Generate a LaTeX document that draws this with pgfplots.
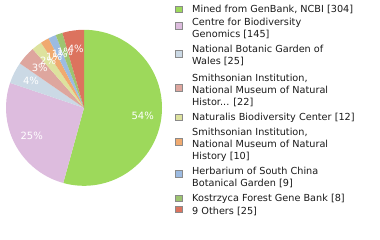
\documentclass[border=0pt]{standalone}
\usepackage{pgfplots}
\usepackage{pgfplotstable}
\pgfplotsset{compat=1.18}
\usepackage{fontspec}
\setmainfont{DejaVu Sans}
\definecolor{c1}{HTML}{9DD95B}
\definecolor{c2}{HTML}{DDBCDE}
\definecolor{c3}{HTML}{CBD9E5}
\definecolor{c4}{HTML}{DEA69E}
\definecolor{c5}{HTML}{DDE29E}
\definecolor{c6}{HTML}{F0AA70}
\definecolor{c7}{HTML}{9CBBE2}
\definecolor{c8}{HTML}{9DC470}
\definecolor{c9}{HTML}{DC735E}
\definecolor{legtext}{HTML}{1A1A1A}
\definecolor{legbox}{HTML}{8A8A8A}

\pgfplotstableread{
value pct col
304 54 c1
145 25 c2
25 4 c3
22 3 c4
12 2 c5
10 1 c6
9 1 c7
8 1 c8
25 4 c9
}\piedata

\newcommand\legbox[2]{\fill[#1, draw=legbox, line width=0.8pt] (175.3pt,{240pt-#2pt-3.3pt}) rectangle (181.9pt,{240pt-#2pt+3.3pt});}
\newcommand\legline[2]{\node at (192pt,{240pt-#1pt-3.5pt}) {#2};}

\begin{document}
\begin{tikzpicture}
\useasboundingbox (0,0) rectangle (380pt,240pt);
\begin{axis}[
  at={(6pt,54.2pt)}, anchor=south west,
  width=156pt, height=156pt, scale only axis,
  xmin=-1, xmax=1, ymin=-1, ymax=1,
  hide axis, clip=false,
]
% total
\def\tot{0}
\pgfplotsforeachungrouped \i in {0,...,8}{%
  \pgfplotstablegetelem{\i}{value}\of\piedata
  \pgfmathsetmacro\tot{\tot+\pgfplotsretval}%
}
% slices
\def\cum{0}
\pgfplotsforeachungrouped \i in {0,...,8}{%
  \pgfplotstablegetelem{\i}{value}\of\piedata \let\pv\pgfplotsretval
  \pgfplotstablegetelem{\i}{col}\of\piedata \let\pc\pgfplotsretval
  \pgfmathsetmacro\sa{90-360*(\cum/\tot)}%
  \pgfmathsetmacro\cum{\cum+\pv}%
  \pgfmathsetmacro\ea{90-360*(\cum/\tot)}%
  \pgfmathsetmacro\cx{cos(\sa)}%
  \pgfmathsetmacro\cy{sin(\sa)}%
  \edef\temp{\noexpand\fill[\pc] (axis cs:0,0) -- (axis cs:\cx,\cy) arc[start angle=\sa, end angle=\ea, radius=78pt] -- cycle;}%
  \temp
}
% labels
\def\cum{0}
\pgfplotsforeachungrouped \i in {0,...,8}{%
  \pgfplotstablegetelem{\i}{value}\of\piedata \let\pv\pgfplotsretval
  \pgfplotstablegetelem{\i}{pct}\of\piedata \let\pp\pgfplotsretval
  \pgfmathsetmacro\sa{90-360*(\cum/\tot)}%
  \pgfmathsetmacro\cum{\cum+\pv}%
  \pgfmathsetmacro\ea{90-360*(\cum/\tot)}%
  \pgfmathsetmacro\lx{0.76*cos((\sa+\ea)/2)}%
  \pgfmathsetmacro\ly{0.76*sin((\sa+\ea)/2)}%
  \edef\temp{\noexpand\node[text=white, font=\noexpand\fontsize{10}{12}\noexpand\selectfont, inner sep=0pt] at (axis cs:\lx,\ly) {\pp\noexpand\%};}%
  \temp
}
\end{axis}
% legend
\begin{scope}[every node/.style={anchor=base west, inner sep=0pt, text=legtext, font=\fontsize{9.7}{11}\selectfont}]
\legbox{c1}{9.3}
\legline{9.3}{Mined from GenBank, NCBI [304]}
\legbox{c2}{26}
\legline{22.3}{Centre for Biodiversity}
\legline{34}{Genomics [145]}
\legbox{c3}{54}
\legline{49}{National Botanic Garden of}
\legline{61}{Wales [25]}
\legbox{c4}{87.7}
\legline{78.3}{Smithsonian Institution,}
\legline{90}{National Museum of Natural}
\legline{101.7}{Histor... [22]}
\legbox{c5}{117.3}
\legline{116.7}{Naturalis Biodiversity Center [12]}
\legbox{c6}{141.7}
\legline{132.3}{Smithsonian Institution,}
\legline{144.3}{National Museum of Natural}
\legline{156}{History [10]}
\legbox{c7}{174}
\legline{171}{Herbarium of South China}
\legline{182.7}{Botanical Garden [9]}
\legbox{c8}{198.3}
\legline{198.3}{Kostrzyca Forest Gene Bank [8]}
\legbox{c9}{209.3}
\legline{210.7}{9 Others [25]}
\end{scope}
\end{tikzpicture}
\end{document}
